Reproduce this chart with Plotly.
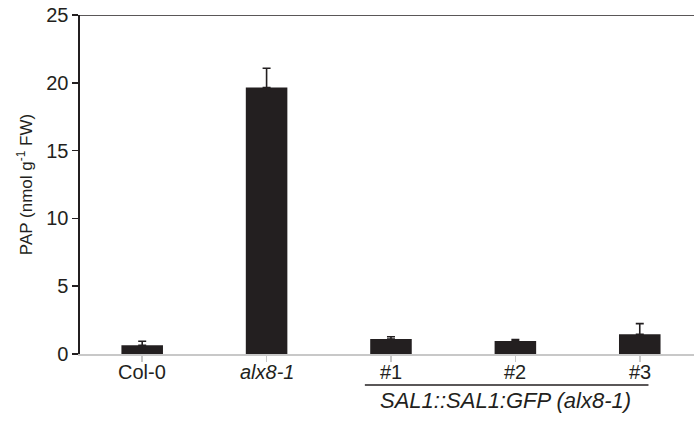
import plotly.graph_objects as go

categories = ["Col-0", "<i>alx8-1</i>", "#1", "#2", "#3"]
pap_values = [0.64, 19.65, 1.10, 0.95, 1.46]
pap_errors = [0.30, 1.42, 0.17, 0.12, 0.78]
y_ticks = [0, 5, 10, 15, 20, 25]
group_label = "<i>SAL1::SAL1:GFP (alx8-1)</i>"
group_members = [2, 3, 4]

dark = "#231f20"
font_family = "Liberation Sans, Arial, Helvetica, sans-serif"

fig = go.Figure()
fig.add_trace(go.Bar(
    x=list(range(len(categories))),
    y=pap_values,
    width=0.334,
    marker=dict(color=dark, line=dict(width=0)),
    error_y=dict(type="data", symmetric=False, array=pap_errors,
                 arrayminus=[0] * len(pap_errors),
                 color=dark, thickness=1.6, width=4),
    hoverinfo="skip",
))

fig.update_layout(
    width=694, height=423,
    margin=dict(l=80, r=0, t=15, b=69, autoexpand=False),
    paper_bgcolor="white", plot_bgcolor="white",
    font=dict(family=font_family, size=20, color=dark),
    showlegend=False,
    xaxis=dict(
        range=[-0.5, 4.436], automargin=False,
        tickmode="array", tickvals=list(range(len(categories))),
        showticklabels=False,
        tickson="boundaries", ticks="outside", ticklen=6, tickwidth=1.5,
        tickcolor="#c8c8c8",
        showline=True, linecolor="#c8c8c8", linewidth=2,
        showgrid=False, zeroline=False,
    ),
    yaxis=dict(
        range=[0, 25], tickvals=y_ticks, automargin=False,
        ticks="outside", ticklen=6, tickwidth=1.5, tickcolor=dark,
        showline=True, linecolor=dark, linewidth=1.6,
        showgrid=False, zeroline=False,
        tickfont=dict(size=20, color=dark),
        title=dict(text="PAP (nmol g<sup>-1</sup> FW)", font=dict(size=17, color=dark), standoff=9),
    ),
)

# category labels, placed close under the axis
for i, label in enumerate(categories):
    fig.add_annotation(x=i, y=-0.053, xref="x", yref="paper", text=label,
                       showarrow=False, font=dict(size=20, color=dark),
                       xanchor="center", yanchor="middle")

# top frame line
fig.add_shape(type="line", xref="paper", yref="y", x0=0, x1=1, y0=25, y1=25,
              line=dict(color=dark, width=1.6))

# group bracket under #1..#3
gx0 = min(group_members) - 0.21
gx1 = max(group_members) + 0.07
fig.add_shape(type="line", xref="x", yref="paper", x0=gx0, x1=gx1, y0=-0.0914, y1=-0.0914,
              line=dict(color=dark, width=1.5))
fig.add_annotation(x=(gx0 + gx1) / 2 - 0.01, y=-0.1357, xref="x", yref="paper",
                   text=group_label, showarrow=False,
                   font=dict(size=22, color=dark), xanchor="center", yanchor="middle")

fig.write_html("out.html",
               config={"displayModeBar": False, "staticPlot": True},
               post_script="document.body.style.margin='0';document.body.style.overflow='hidden';")
